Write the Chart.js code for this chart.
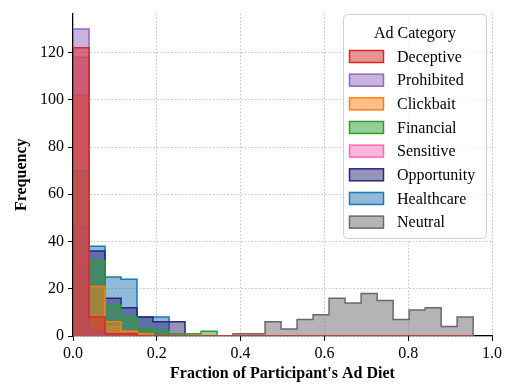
<!DOCTYPE html>
<html>
<head>
<meta charset="utf-8">
<script src="https://cdn.jsdelivr.net/npm/chart.js@4"></script>
<style>
  html, body { margin: 0; padding: 0; background: #fff; }
  canvas { display: block; }
</style>
</head>
<body>
<canvas id="adDietChart" width="505" height="384"></canvas>
<script>
// histogram counts per bin, 25 common bins from 0 to ~0.955
const BIN_WIDTH = 0.0382;
const categories = ['Deceptive', 'Prohibited', 'Clickbait', 'Financial', 'Sensitive', 'Opportunity', 'Healthcare', 'Neutral'];

const deceptive   = [122, 8, 1, 1, 0, 0, 0, 0, 0, 0, 0, 0, 0, 0, 0, 0, 0, 0, 0, 0, 0, 0, 0, 0, 0];
const prohibited  = [130, 2, 0, 0, 0, 0, 0, 0, 0, 0, 0, 0, 0, 0, 0, 0, 0, 0, 0, 0, 0, 0, 0, 0, 0];
const clickbait   = [102, 21, 6, 2, 1, 0, 0, 0, 0, 0, 0, 0, 0, 0, 0, 0, 0, 0, 0, 0, 0, 0, 0, 0, 0];
const financial   = [70, 32, 13, 8, 3, 2, 1, 1, 2, 0, 0, 0, 0, 0, 0, 0, 0, 0, 0, 0, 0, 0, 0, 0, 0];
const sensitive   = [118, 8, 4, 2, 0, 0, 0, 0, 0, 0, 0, 0, 0, 0, 0, 0, 0, 0, 0, 0, 0, 0, 0, 0, 0];
const opportunity = [46, 36, 16, 12, 8, 6, 6, 0, 0, 0, 0, 0, 0, 0, 0, 0, 0, 0, 0, 0, 0, 0, 0, 0, 0];
const healthcare  = [29, 38, 25, 24, 8, 8, 0, 0, 0, 0, 0, 0, 0, 0, 0, 0, 0, 0, 0, 0, 0, 0, 0, 0, 0];
const neutral     = [0, 0, 0, 0, 0, 0, 0, 0, 0, 0, 1, 1, 6, 3, 7, 9, 16, 14, 18, 15, 7, 11, 12, 4, 8];

const seriesCounts = [deceptive, prohibited, clickbait, financial, sensitive, opportunity, healthcare, neutral];
const seriesColors = ['#d62728', '#9467bd', '#ff7f0e', '#2ca02c', '#ff69b4', '#2b2878', '#1f77b4', '#696969'];

const xTicks = [0, 0.2, 0.4, 0.6, 0.8, 1.0];
const yTicks = [0, 20, 40, 60, 80, 100, 120];

function hexToRgba(hex, a) {
    const n = parseInt(hex.slice(1), 16);
    return `rgba(${(n >> 16) & 255}, ${(n >> 8) & 255}, ${n & 255}, ${a})`;
}

// step outline: rise at the first edge, hold each count across its bin, drop at the last edge
function stepPoints(counts) {
    const pts = [{ x: 0, y: 0 }];
    counts.forEach((c, i) => pts.push({ x: i * BIN_WIDTH, y: c }));
    pts.push({ x: counts.length * BIN_WIDTH, y: counts[counts.length - 1] });
    pts.push({ x: counts.length * BIN_WIDTH, y: 0 });
    return pts;
}

const serif = "'Liberation Serif', 'DejaVu Serif', serif";

const datasets = categories.map((name, i) => ({
    label: name,
    data: stepPoints(seriesCounts[i]),
    borderColor: seriesColors[i],
    backgroundColor: hexToRgba(seriesColors[i], 0.5),
    borderWidth: 1.5,
    stepped: true,
    fill: 'origin',
    pointRadius: 0,
    tension: 0
}));

// legend drawn by hand so it sits like the matplotlib box
const legendBox = {
    id: 'legendBox',
    afterDraw(chart) {
        const ctx = chart.ctx;
        const x = 343.5, y = 14.5, w = 143, h = 224, r = 4;
        ctx.save();
        ctx.beginPath();
        ctx.roundRect(x, y, w, h, r);
        ctx.fillStyle = 'rgba(255,255,255,0.8)';
        ctx.fill();
        ctx.strokeStyle = '#d0d0d0';
        ctx.lineWidth = 1;
        ctx.stroke();

        ctx.fillStyle = '#000';
        ctx.font = '16px ' + serif;
        ctx.textBaseline = 'middle';
        ctx.textAlign = 'center';
        ctx.fillText('Ad Category', x + w / 2, 34);

        ctx.textAlign = 'left';
        chart.data.datasets.forEach((ds, i) => {
            const cy = 56.5 + i * 23.66;
            ctx.fillStyle = ds.backgroundColor;
            ctx.fillRect(349.5, cy - 6, 34, 12);
            ctx.strokeStyle = ds.borderColor;
            ctx.lineWidth = 1.5;
            ctx.strokeRect(349.5, cy - 6, 34, 12);
            ctx.fillStyle = '#000';
            ctx.fillText(ds.label, 397, cy + 1);
        });
        ctx.restore();
    }
};

const gridStyle = {
    color: '#b0b0b0',
    lineWidth: 0.8,
    drawTicks: true,
    tickLength: 5,
    tickColor: '#000',
    tickWidth: 1,
    tickBorderDash: []
};
const borderStyle = { color: '#000', width: 1.2, dash: [1.5, 2] };

const ctx = document.getElementById('adDietChart').getContext('2d');
const adDietChart = new Chart(ctx, {
    type: 'line',
    data: { datasets: datasets },
    options: {
        responsive: false,
        animation: false,
        layout: { padding: { top: 12, right: 13, left: 0, bottom: 0 } },
        plugins: {
            legend: { display: false },
            tooltip: { enabled: false }
        },
        scales: {
            x: {
                type: 'linear',
                min: 0,
                max: 1,
                afterBuildTicks: (scale) => { scale.ticks = xTicks.map(v => ({ value: v })); },
                afterFit: (scale) => { scale.height = 48; },
                grid: gridStyle,
                border: borderStyle,
                ticks: {
                    color: '#000',
                    padding: 3,
                    maxRotation: 0,
                    font: { family: serif, size: 16 },
                    callback: (v) => v.toFixed(1)
                },
                title: {
                    display: true,
                    text: "Fraction of Participant's Ad Diet",
                    color: '#000',
                    padding: { top: 0, bottom: 1 },
                    font: { family: serif, size: 16, weight: 'bold' }
                }
            },
            y: {
                min: 0,
                max: 136.5,
                afterBuildTicks: (scale) => { scale.ticks = yTicks.map(v => ({ value: v })); },
                afterFit: (scale) => { scale.width = 73; },
                grid: gridStyle,
                border: borderStyle,
                ticks: {
                    color: '#000',
                    padding: 4,
                    font: { family: serif, size: 16 }
                },
                title: {
                    display: true,
                    text: 'Frequency',
                    color: '#000',
                    padding: { top: 12, bottom: 0 },
                    font: { family: serif, size: 16, weight: 'bold' }
                }
            }
        }
    },
    plugins: [legendBox]
});
</script>
</body>
</html>
